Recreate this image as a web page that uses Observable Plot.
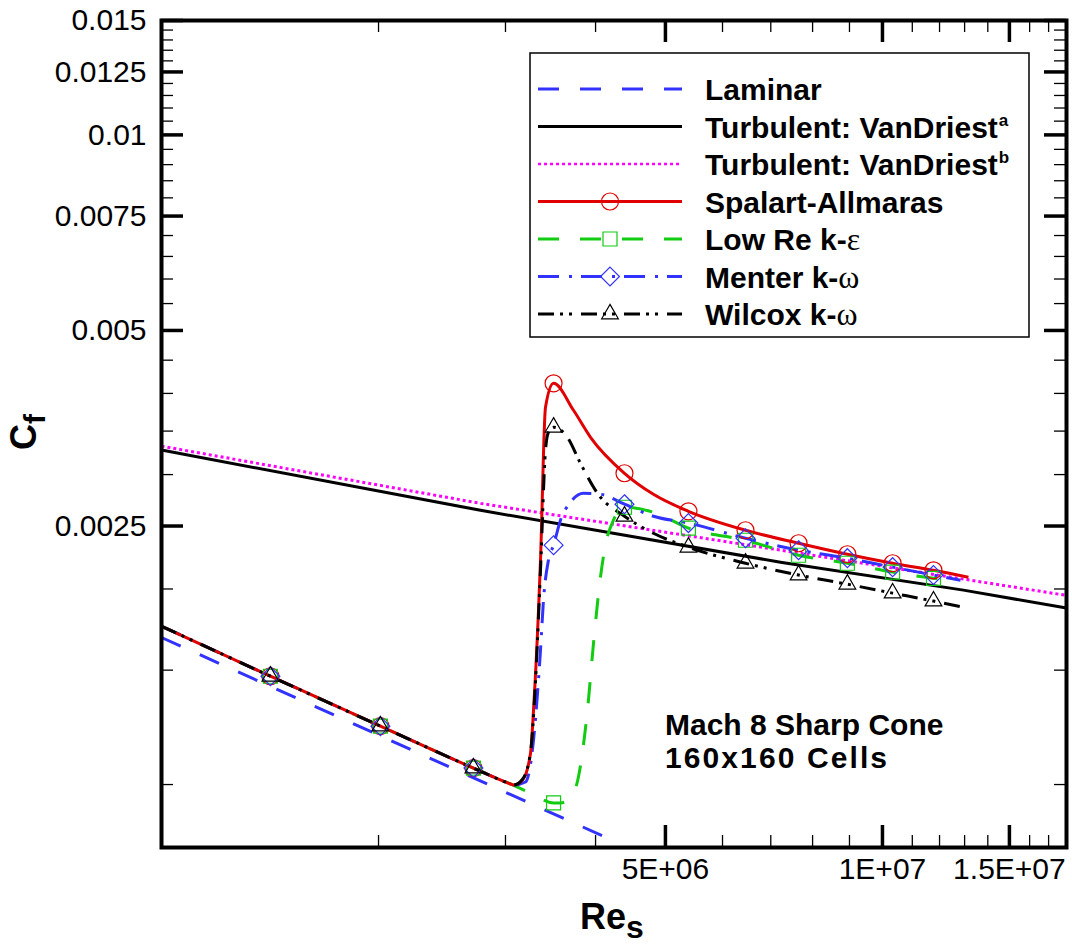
<!DOCTYPE html>
<html><head><meta charset="utf-8">
<script src="https://cdn.jsdelivr.net/npm/d3@7"></script>
<script src="https://cdn.jsdelivr.net/npm/@observablehq/plot@0.6"></script>
<style>body{margin:0;background:#fff}#chart svg{display:block}</style>
</head><body><div id="chart"></div>
<script>
// ---------- data ----------
const xMajor = [5e6, 1e7, 1.5e7];
const xMajorLabels = ["5E+06", "1E+07", "1.5E+07"];
const xMinor = [2e6, 3e6, 4e6, 6e6, 7e6, 8e6, 9e6, 1.1e7, 1.2e7, 1.3e7, 1.4e7, 1.6e7, 1.7e7];
const yMajor = [0.0025, 0.005, 0.0075, 0.01, 0.0125, 0.015];
const yMajorLabels = ["0.0025", "0.005", "0.0075", "0.01", "0.0125", "0.015"];
const yMinor = [0.001, 0.0015, 0.002, 0.003, 0.0035, 0.004, 0.0045, 0.0055, 0.006, 0.0065, 0.007,
  0.008, 0.0085, 0.009, 0.0095, 0.0105, 0.011, 0.0115, 0.012, 0.013, 0.0135, 0.014, 0.0145];

const laminarRe = [1e6, 2e6, 3e6, 4.25e6];
const laminarCf = [0.001684, 0.001192, 0.000973, 0.000818];

const vdaRe = [1e6, 2.77e6, 7.22e6, 1.295e7, 1.8e7];
const vdaCf = [0.003272, 0.002643, 0.002199, 0.001992, 0.001869];

const vdbRe = [1e6, 2.77e6, 7.22e6, 1.8e7];
const vdbCf = [0.003318, 0.002709, 0.002295, 0.001955];

// shared laminar portion of the four turbulence-model solutions
const lamRe = [1e6, 1.416e6, 2.012e6, 2.708e6, 3.048e6];
const lamCf = [0.001753, 0.001468, 0.001230, 0.001060, 0.001002];

const saRe = [3.078e6, 3.168e6, 3.25e6, 3.281e6, 3.355e6, 3.409e6, 3.498e6, 3.728e6, 3.936e6, 4.387e6, 4.812e6, 5.381e6, 6.457e6, 7.65e6, 8.94e6, 1.033e7, 1.177e7, 1.316e7];
const saCf = [0.000998, 0.001016, 0.001118, 0.001302, 0.002215, 0.003807, 0.004146, 0.003768, 0.003424, 0.003014, 0.002798, 0.002634, 0.002463, 0.002352, 0.002262, 0.002191, 0.002137, 0.002085];

const lowReRe = [3.25e6, 3.498e6, 3.576e6, 3.693e6, 3.787e6, 3.898e6, 3.974e6, 4.063e6, 4.128e6, 4.235e6, 4.387e6, 4.812e6, 5.381e6, 6.457e6, 7.65e6, 8.94e6, 1.033e7, 1.177e7, 1.263e7];
const lowReCf = [0.000970, 0.000937, 0.000937, 0.000953, 0.001027, 0.001302, 0.001651, 0.002085, 0.002336, 0.002552, 0.002672, 0.002625, 0.002481, 0.002377, 0.002254, 0.002191, 0.002123, 0.002077, 0.002056];

const menterRe = [3.078e6, 3.198e6, 3.281e6, 3.323e6, 3.355e6, 3.387e6, 3.441e6, 3.498e6, 3.576e6, 3.693e6, 3.848e6, 4.063e6, 4.387e6, 4.812e6, 5.381e6, 6.457e6, 7.65e6, 8.94e6, 1.033e7, 1.177e7, 1.283e7];
const menterCf = [0.000998, 0.001009, 0.001171, 0.001382, 0.001610, 0.001922, 0.002215, 0.002336, 0.002552, 0.002721, 0.002808, 0.002798, 0.002701, 0.002588, 0.002526, 0.002394, 0.002295, 0.002231, 0.002161, 0.002101, 0.002063];

const wilcoxRe = [3.078e6, 3.168e6, 3.25e6, 3.291e6, 3.355e6, 3.409e6, 3.441e6, 3.498e6, 3.656e6, 3.811e6, 4.024e6, 4.387e6, 4.812e6, 5.381e6, 6.457e6, 7.65e6, 8.94e6, 1.033e7, 1.177e7, 1.295e7];
const wilcoxCf = [0.000998, 0.001019, 0.001122, 0.001348, 0.002137, 0.003270, 0.003486, 0.003548, 0.003424, 0.003123, 0.002808, 0.002588, 0.002437, 0.002319, 0.002191, 0.002101, 0.002034, 0.001971, 0.001916, 0.001875];

// symbols are drawn at these grid stations
const markerRe = [1.416e6, 2.012e6, 2.708e6, 3.498e6, 4.387e6, 5.381e6, 6.457e6, 7.65e6, 8.94e6, 1.033e7, 1.177e7];
const saMarkCf = [0.001468, 0.001230, 0.001060, 0.004146, 0.003014, 0.002634, 0.002463, 0.002352, 0.002262, 0.002191, 0.002137];
const lowReMarkCf = [0.001468, 0.001230, 0.001060, 0.000937, 0.002672, 0.002481, 0.002377, 0.002254, 0.002191, 0.002123, 0.002077];
const menterMarkCf = [0.001468, 0.001230, 0.001060, 0.002336, 0.002701, 0.002526, 0.002394, 0.002295, 0.002231, 0.002161, 0.002101];
const wilcoxMarkCf = [0.001468, 0.001230, 0.001060, 0.003548, 0.002588, 0.002319, 0.002191, 0.002101, 0.002034, 0.001971, 0.001916];

// ---------- styling ----------
const BLUE = "#3232ff", RED = "#e00000", GREEN = "#12cc12", MAGENTA = "#ff00ff", BLACK = "#000";
const DASH = "21,21", DASHDOT = "21,10,3,9", DASHDOTDOT = "16,6,3,6,3,9", DOT = "3,3";
const W = 1072, H = 944, mL = 161, mR = 6, mT = 20, mB = 97;
const innerW = W - mL - mR, innerH = H - mT - mB;

const rows = (re, cf) => re.map((r, i) => ({Re: r, Cf: cf[i]}));
const line = (re, cf, o) => Plot.line(rows(re, cf), {x: "Re", y: "Cf", strokeWidth: 3, curve: "monotone-x",
  strokeLinecap: "butt", strokeLinejoin: "round", ...o});
const dots = (cf, o) => Plot.dot(rows(markerRe, cf), {x: "Re", y: "Cf", fill: "none", strokeWidth: 1.2, ...o});

const svg = Plot.plot({
  width: W, height: H,
  marginLeft: mL, marginRight: mR, marginTop: mT, marginBottom: mB,
  style: {fontFamily: "'Liberation Sans', Arial, Helvetica, sans-serif", background: "white", color: "black"},
  x: {type: "log", domain: [1e6, 1.8e7]},
  y: {type: "log", domain: [0.0008, 0.015]},
  marks: [
    line(laminarRe, laminarCf, {stroke: BLUE, strokeDasharray: DASH, curve: "linear"}),
    line(vdaRe, vdaCf, {stroke: BLACK, curve: "linear"}),
    line(vdbRe, vdbCf, {stroke: MAGENTA, strokeDasharray: DOT, curve: "linear"}),
    line(lamRe.concat(lowReRe), lamCf.concat(lowReCf), {stroke: GREEN, strokeDasharray: DASH}),
    line(lamRe.concat(menterRe), lamCf.concat(menterCf), {stroke: BLUE, strokeDasharray: DASHDOT}),
    line(lamRe.concat(saRe), lamCf.concat(saCf), {stroke: RED}),
    line(lamRe.concat(wilcoxRe), lamCf.concat(wilcoxCf), {stroke: BLACK, strokeDasharray: DASHDOTDOT}),
    dots(saMarkCf, {symbol: "circle", r: 8.5, stroke: RED}),
    dots(lowReMarkCf, {symbol: "square", r: 7.9, stroke: GREEN}),
    dots(menterMarkCf, {symbol: "diamond2", r: 8.5, stroke: BLUE}),
    dots(wilcoxMarkCf, {symbol: "triangle", r: 6.2, stroke: BLACK}),
    Plot.tickX(xMinor, {x: d => d, insetTop: innerH - 12, strokeWidth: 1.3}),
    Plot.tickX(xMinor, {x: d => d, insetBottom: innerH - 12, strokeWidth: 1.3}),
    Plot.tickX(xMajor, {x: d => d, insetTop: innerH - 22, strokeWidth: 3.5}),
    Plot.tickX(xMajor, {x: d => d, insetBottom: innerH - 22, strokeWidth: 3.5}),
    Plot.tickY(yMinor, {y: d => d, insetRight: innerW - 12, strokeWidth: 1.3}),
    Plot.tickY(yMinor, {y: d => d, insetLeft: innerW - 12, strokeWidth: 1.3}),
    Plot.tickY(yMajor, {y: d => d, insetRight: innerW - 22, strokeWidth: 3.5}),
    Plot.tickY(yMajor, {y: d => d, insetLeft: innerW - 22, strokeWidth: 3.5}),
    Plot.axisX(xMajor, {anchor: "bottom", tickSize: 0, tickPadding: 10, label: null, fontSize: 30,
      tickFormat: d => xMajorLabels[xMajor.indexOf(d)]}),
    Plot.axisY(yMajor, {anchor: "left", tickSize: 0, tickPadding: 15, label: null, fontSize: 30,
      tickFormat: d => yMajorLabels[yMajor.indexOf(d)]}),
    Plot.frame({stroke: BLACK, strokeWidth: 4})
  ]
});
document.getElementById("chart").appendChild(svg);

// ---------- axis titles, annotation, legend ----------
const S = d3.select(svg);
const FONT = "'Liberation Sans', Arial, Helvetica, sans-serif";

const xt = S.append("text").attr("x", 580).attr("y", 929).attr("font-family", FONT).attr("text-anchor", "start")
  .attr("font-weight", "bold").attr("font-size", 36).attr("fill", "black");
xt.append("tspan").text("Re");
xt.append("tspan").attr("dy", 9).attr("font-size", 32).text("s");

const yt = S.append("text").attr("transform", "translate(36,450) rotate(-90)").attr("font-family", FONT)
  .attr("text-anchor", "start").attr("font-weight", "bold").attr("font-size", 36).attr("fill", "black");
yt.append("tspan").text("C");
yt.append("tspan").attr("dy", 9).attr("font-size", 30).text("f");

const ann = S.append("g").attr("font-family", FONT).attr("text-anchor", "start").attr("font-weight", "bold")
  .attr("font-size", 30).attr("fill", "black");
ann.append("text").attr("x", 665).attr("y", 735).text("Mach 8 Sharp Cone");
ann.append("text").attr("x", 665).attr("y", 768).attr("textLength", 222).attr("lengthAdjust", "spacing").text("160x160 Cells");

const legendItems = [
  {parts: [["Laminar"]], color: BLUE, dash: DASH, width: 3},
  {parts: [["Turbulent: VanDriest"], ["a", "sup"]], color: BLACK, dash: null, width: 3},
  {parts: [["Turbulent: VanDriest"], ["b", "sup"]], color: MAGENTA, dash: DOT, width: 2.5},
  {parts: [["Spalart-Allmaras"]], color: RED, dash: null, width: 3, sym: d3.symbolCircle, r: 8.5},
  {parts: [["Low Re k-"], ["\u03b5", "greek"]], color: GREEN, dash: DASH, width: 3, sym: d3.symbolSquare, r: 7.9},
  {parts: [["Menter k-"], ["\u03c9", "greek"]], color: BLUE, dash: DASHDOT, width: 3, sym: d3.symbolDiamond2, r: 8.5},
  {parts: [["Wilcox k-"], ["\u03c9", "greek"]], color: BLACK, dash: DASHDOTDOT, width: 3, sym: d3.symbolTriangle, r: 6.2}
];
const lg = S.append("g");
lg.append("rect").attr("x", 530).attr("y", 53).attr("width", 499).attr("height", 284)
  .attr("fill", "white").attr("stroke", "black").attr("stroke-width", 1.5);
legendItems.forEach((it, i) => {
  const y = 89 + i * 37.5;
  lg.append("line").attr("x1", 538).attr("x2", 682).attr("y1", y).attr("y2", y)
    .attr("stroke", it.color).attr("stroke-width", it.width)
    .attr("stroke-dasharray", it.dash);
  if (it.sym) {
    lg.append("path").attr("transform", `translate(610,${y})`)
      .attr("d", d3.symbol().type(it.sym).size(Math.PI * it.r * it.r)())
      .attr("fill", "none").attr("stroke", it.color).attr("stroke-width", 1.2);
  }
  const t = lg.append("text").attr("x", 705).attr("y", y + 11).attr("font-family", FONT).attr("text-anchor", "start")
    .attr("font-weight", "bold").attr("font-size", 30).attr("fill", "black");
  it.parts.forEach(([s, kind]) => {
    const sp = t.append("tspan").text(s);
    if (kind === "sup") sp.attr("font-size", 17).attr("dy", -12).attr("dx", 1);
    if (kind === "greek") sp.attr("font-family", "'Liberation Serif', 'Times New Roman', serif")
      .attr("font-weight", "normal").attr("font-size", 32);
  });
});
</script>
</body></html>
